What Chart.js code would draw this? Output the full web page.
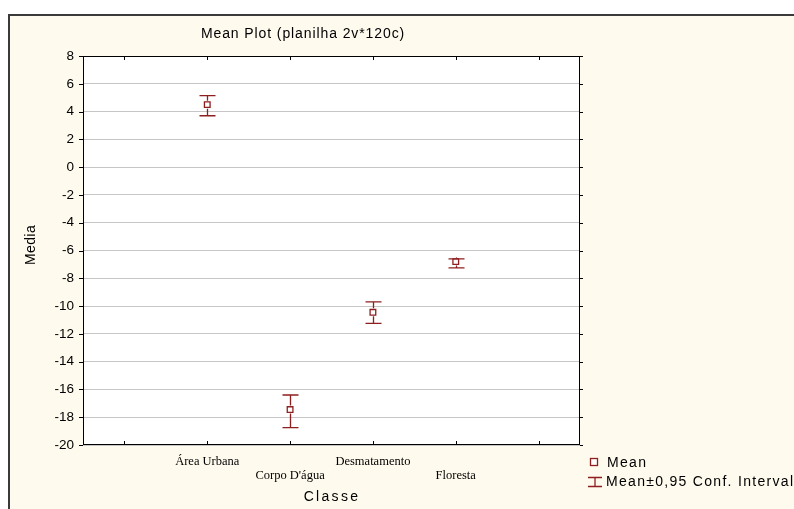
<!DOCTYPE html>
<html lang="en">
<head>
<meta charset="UTF-8">
<title>Mean Plot</title>
<script src="https://cdn.jsdelivr.net/npm/chart.js"></script>
<style>
  html, body { margin: 0; padding: 0; background: #fff; }
  #wrap { width: 794px; height: 509px; position: relative; }
</style>
</head>
<body>
<div id="wrap"><canvas id="chart" width="794" height="509"></canvas></div>
<script>
// data
const classes = ['Área Urbana', "Corpo D'água", 'Desmatamento', 'Floresta'];
const means   = [4.5, -17.45, -10.45, -6.8];
const ciLow   = [3.7, -18.75, -11.25, -7.25];
const ciHigh  = [5.15, -16.4, -9.7, -6.6];
const xPos    = [1, 2, 3, 4];

const RED = '#8e1f1f';
const CREAM = '#fffaee';

const deco = {
  id: 'deco',
  beforeDraw(chart) {
    const ctx = chart.ctx;
    ctx.save();
    ctx.fillStyle = '#fff';
    ctx.fillRect(0, 0, chart.width, chart.height);
    ctx.fillStyle = CREAM;
    ctx.fillRect(8, 14, chart.width - 8, chart.height - 14);
    ctx.strokeStyle = '#3a3a3a';
    ctx.lineWidth = 2;
    ctx.beginPath();
    ctx.moveTo(9, chart.height);
    ctx.lineTo(9, 15);
    ctx.lineTo(chart.width, 15);
    ctx.stroke();
    const a = chart.chartArea;
    ctx.fillStyle = '#fff';
    ctx.fillRect(a.left, a.top, a.right - a.left, a.bottom - a.top);
    ctx.restore();
  },
  afterDatasetsDraw(chart) {
    const ctx = chart.ctx;
    const a = chart.chartArea;
    const xs = chart.scales.x, ys = chart.scales.y;
    ctx.save();
    // error bars
    ctx.strokeStyle = RED;
    ctx.lineWidth = 1.3;
    for (let i = 0; i < means.length; i++) {
      const px = Math.round(xs.getPixelForValue(xPos[i])) + 0.5;
      const lo = ys.getPixelForValue(ciLow[i]);
      const hi = ys.getPixelForValue(ciHigh[i]);
      const m = ys.getPixelForValue(means[i]);
      ctx.beginPath();
      ctx.moveTo(px, hi); ctx.lineTo(px, m - 4);
      ctx.moveTo(px, m + 4); ctx.lineTo(px, lo);
      ctx.moveTo(px - 8, hi); ctx.lineTo(px + 8, hi);
      ctx.moveTo(px - 8, lo); ctx.lineTo(px + 8, lo);
      ctx.stroke();
    }
    // frame + ticks
    ctx.strokeStyle = '#000';
    ctx.lineWidth = 1;
    ctx.strokeRect(a.left + 0.5, a.top + 0.5, a.right - a.left - 1, a.bottom - a.top - 1);
    ctx.beginPath();
    xs.ticks.forEach(t => {
      const px = Math.round(xs.getPixelForValue(t.value)) + 0.5;
      ctx.moveTo(px, a.bottom); ctx.lineTo(px, a.bottom - 4);
      ctx.moveTo(px, a.top); ctx.lineTo(px, a.top + 4);
    });
    ys.ticks.forEach(t => {
      const py = Math.round(ys.getPixelForValue(t.value)) + 0.5;
      ctx.moveTo(a.left - 4, py); ctx.lineTo(a.left, py);
      ctx.moveTo(a.right, py); ctx.lineTo(a.right + 3, py);
    });
    ctx.stroke();

    // title and axis titles
    ctx.fillStyle = '#000';
    ctx.textAlign = 'center';
    ctx.textBaseline = 'middle';
    ctx.font = '14px Arial, "Liberation Sans", sans-serif';
    ctx.letterSpacing = '0.9px';
    ctx.fillText('Mean Plot (planilha 2v*120c)', 303, 34);
    ctx.letterSpacing = '2.3px';
    ctx.fillText('Classe', 332, 497);
    ctx.letterSpacing = '0.4px';
    ctx.save();
    ctx.translate(31, 245);
    ctx.rotate(-Math.PI / 2);
    ctx.fillText('Media', 0, 0);
    ctx.restore();

    // legend
    ctx.textAlign = 'left';
    ctx.font = '14px Arial, "Liberation Sans", sans-serif';
    ctx.letterSpacing = '1.3px';
    ctx.fillText('Mean', 607, 463);
    ctx.fillText('Mean\u00b10,95 Conf. Interval', 606, 482);
    ctx.letterSpacing = '0px';
    ctx.strokeStyle = RED;
    ctx.lineWidth = 1.3;
    ctx.fillStyle = '#fff';
    ctx.fillRect(591, 459, 6, 6);
    ctx.strokeRect(590.5, 458.5, 7, 7);
    ctx.beginPath();
    ctx.moveTo(588, 477.5); ctx.lineTo(602, 477.5);
    ctx.moveTo(595, 477.5); ctx.lineTo(595, 486);
    ctx.moveTo(588, 486.5); ctx.lineTo(602, 486.5);
    ctx.stroke();
    ctx.restore();
  }
};

new Chart(document.getElementById('chart'), {
  type: 'scatter',
  data: {
    datasets: [{
      label: 'Mean',
      data: xPos.map((x, i) => ({ x: x, y: means[i] })),
      pointStyle: 'rect',
      pointRadius: 4,
      borderColor: RED,
      backgroundColor: '#fff',
      borderWidth: 1.3
    }]
  },
  options: {
    responsive: false,
    animation: false,
    layout: { padding: { left: 0, right: 214, top: 56, bottom: 0 } },
    plugins: { legend: { display: false }, tooltip: { enabled: false } },
    scales: {
      x: {
        type: 'linear',
        min: -0.5, max: 5.5,
        afterBuildTicks: s => { s.ticks = [0, 1, 2, 3, 4, 5].map(v => ({ value: v })); },
        afterFit: s => { s.height = 64; },
        grid: { drawOnChartArea: false, drawTicks: false },
        border: { display: false },
        ticks: {
          padding: 10,
          color: '#000',
          font: { family: '"Times New Roman", "Liberation Serif", serif', size: 12.5, lineHeight: 1.1 },
          maxRotation: 0,
          autoSkip: false,
          callback: v => {
            const i = xPos.indexOf(v);
            if (i < 0) return '';
            return i % 2 === 0 ? [classes[i]] : ['', classes[i]];
          }
        }
      },
      y: {
        min: -20, max: 8,
        afterFit: s => { s.width = 83; },
        grid: { color: '#c6c6c6', drawTicks: false },
        border: { display: false },
        ticks: {
          stepSize: 2,
          padding: 9,
          color: '#000',
          font: { family: 'Arial, "Liberation Sans", sans-serif', size: 13.5 }
        }
      }
    }
  },
  plugins: [deco]
});
</script>
</body>
</html>
